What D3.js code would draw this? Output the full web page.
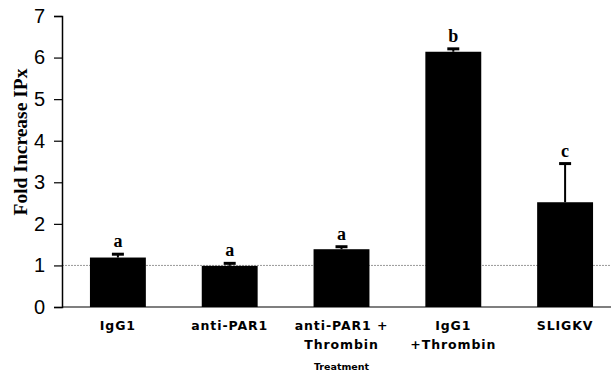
<!DOCTYPE html>
<html>
<head>
<meta charset="utf-8">
<script src="https://cdn.jsdelivr.net/npm/d3@7"></script>
<style>
  body { margin: 0; background: #fff; }
  svg { display: block; }
</style>
</head>
<body>
<div id="chart"></div>
<script>
// data
var categories = ['IgG1', 'anti-PAR1', 'anti-PAR1 +|Thrombin', 'IgG1|+Thrombin', 'SLIGKV'];
var values = [1.19, 0.99, 1.39, 6.14, 2.52];
var errors = [0.08, 0.06, 0.06, 0.07, 0.93];
var letters = ['a', 'a', 'a', 'b', 'c'];
var yTicks = [0, 1, 2, 3, 4, 5, 6, 7];

const width = 611;
const height = 375;
const margin = { left: 62, top: 16, right: -10, bottom: 68 };

var svg = d3.select('#chart')
  .append('svg')
  .attr('width', width)
  .attr('height', height);

// Scales
var scaleX = d3.scaleBand()
  .domain(categories)
  .range([margin.left, width - margin.right])
  .paddingInner(0.5)
  .paddingOuter(0.25);

var scaleY = d3.scaleLinear()
  .domain([0, 7])
  .range([height - margin.bottom, margin.top]);

// reference line at 1
svg.append('line')
  .attr('x1', margin.left)
  .attr('x2', width)
  .attr('y1', scaleY(1))
  .attr('y2', scaleY(1))
  .attr('stroke', '#999')
  .attr('stroke-width', 1)
  .attr('stroke-dasharray', '2,1');

// bars
svg.selectAll('rect.bar')
  .data(values)
  .enter()
  .append('rect')
  .attr('class', 'bar')
  .attr('x', function (d, i) { return scaleX(categories[i]); })
  .attr('y', function (d) { return scaleY(d); })
  .attr('width', scaleX.bandwidth())
  .attr('height', function (d) { return scaleY(0) - scaleY(d); })
  .attr('fill', '#000');

// error bars
var err = svg.selectAll('g.err')
  .data(values)
  .enter()
  .append('g')
  .attr('class', 'err');

err.append('line')
  .attr('x1', function (d, i) { return scaleX(categories[i]) + scaleX.bandwidth() / 2; })
  .attr('x2', function (d, i) { return scaleX(categories[i]) + scaleX.bandwidth() / 2; })
  .attr('y1', function (d) { return scaleY(d); })
  .attr('y2', function (d, i) { return scaleY(d + errors[i]); })
  .attr('stroke', '#000')
  .attr('stroke-width', 2);

err.append('line')
  .attr('x1', function (d, i) { return scaleX(categories[i]) + scaleX.bandwidth() / 2 - 6; })
  .attr('x2', function (d, i) { return scaleX(categories[i]) + scaleX.bandwidth() / 2 + 6; })
  .attr('y1', function (d, i) { return scaleY(d + errors[i]); })
  .attr('y2', function (d, i) { return scaleY(d + errors[i]); })
  .attr('stroke', '#000')
  .attr('stroke-width', 3);

// significance letters
svg.selectAll('text.letter')
  .data(values)
  .enter()
  .append('text')
  .attr('class', 'letter')
  .attr('x', function (d, i) { return scaleX(categories[i]) + scaleX.bandwidth() / 2; })
  .attr('y', function (d, i) { return scaleY(d + errors[i]) - 7; })
  .attr('text-anchor', 'middle')
  .attr('font-family', '"Liberation Serif", "Times New Roman", serif')
  .attr('font-weight', 'bold')
  .attr('font-size', '18px')
  .text(function (d, i) { return letters[i]; });

// Axis
var axisY = d3.axisLeft(scaleY)
  .tickValues(yTicks)
  .tickFormat(d3.format('d'))
  .tickSize(8)
  .tickPadding(9);

var gy = svg.append('g')
  .attr('transform', 'translate(' + margin.left + ',0)')
  .call(axisY);

gy.select('.domain').attr('stroke-width', 1.5);
gy.selectAll('.tick line').attr('stroke-width', 1.2);
gy.selectAll('.tick text')
  .attr('font-family', '"Liberation Sans", Arial, sans-serif')
  .attr('font-size', '20px')
  .attr('fill', '#000');

// x axis line
svg.append('line')
  .attr('x1', margin.left)
  .attr('x2', width)
  .attr('y1', scaleY(0))
  .attr('y2', scaleY(0))
  .attr('stroke', '#000')
  .attr('stroke-width', 1.2);

// x labels
var xl = svg.selectAll('text.xlab')
  .data(categories)
  .enter()
  .append('text')
  .attr('class', 'xlab')
  .attr('x', function (d) { return scaleX(d) + scaleX.bandwidth() / 2; })
  .attr('y', scaleY(0) + 23)
  .attr('text-anchor', 'middle')
  .attr('font-family', '"DejaVu Sans", sans-serif')
  .attr('font-weight', 'bold')
  .attr('font-size', '12.5px')
  .attr('letter-spacing', '0.9px');

xl.selectAll('tspan')
  .data(function (d) { return d.split('|'); })
  .enter()
  .append('tspan')
  .attr('x', function () { return d3.select(this.parentNode).attr('x'); })
  .attr('dy', function (d, i) { return i === 0 ? 0 : 19; })
  .text(function (d) { return d; });

// axis titles
svg.append('text')
  .attr('x', (margin.left + width - margin.right) / 2)
  .attr('y', 370)
  .attr('text-anchor', 'middle')
  .attr('font-family', '"DejaVu Sans", sans-serif')
  .attr('font-weight', 'bold')
  .attr('font-size', '9.5px')
  .text('Treatment');

svg.append('text')
  .attr('transform', 'translate(27,' + 142 + ') rotate(-90)')
  .attr('text-anchor', 'middle')
  .attr('font-family', '"Liberation Serif", "Times New Roman", serif')
  .attr('font-weight', 'bold')
  .attr('font-size', '19.5px')
  .text('Fold Increase IPx');
</script>
</body>
</html>
